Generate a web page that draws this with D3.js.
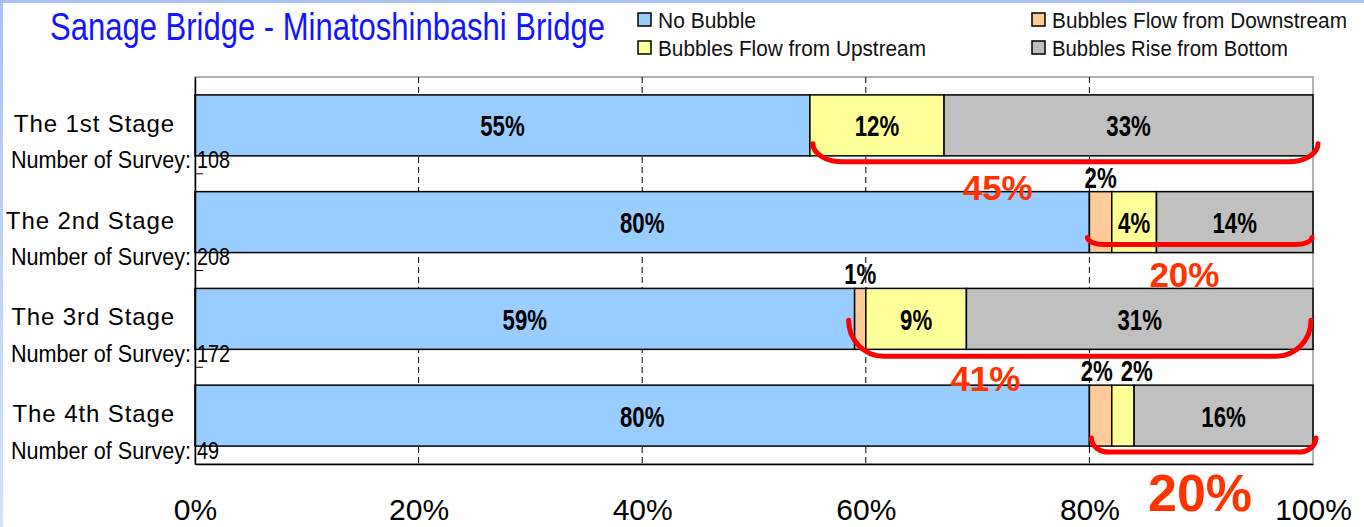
<!DOCTYPE html>
<html><head><meta charset="utf-8">
<script src="https://cdn.jsdelivr.net/npm/d3@7"></script>
<style>body{margin:0;background:#fff}svg{display:block}</style>
</head><body><svg id="c" width="1364" height="527"></svg>
<script>
// ---- data ----
const stages = ["The 1st Stage", "The 2nd Stage", "The 3rd Stage", "The 4th Stage"];
const surveyCounts = [108, 208, 172, 49];
const seriesNames = ["No Bubble", "Bubbles Flow from Downstream", "Bubbles Flow from Upstream", "Bubbles Rise from Bottom"];
const noBubble = [55, 80, 59, 80];
const flowDownstream = [0, 2, 1, 2];
const flowUpstream = [12, 4, 9, 2];
const riseBottom = [33, 14, 31, 16];
const xTickValues = [0, 20, 40, 60, 80, 100];
const xTickLabels = ["0%", "20%", "40%", "60%", "80%", "100%"];
const titleText = "Sanage Bridge - Minatoshinbashi Bridge";

// ---- layout / style (not data) ----
const colors = ["#99ccff", "#ffcc99", "#ffff99", "#c0c0c0"];
const SANS = "'Liberation Sans',Arial,sans-serif";
const bracketLayout = [
  {dx0: 3, dx1: 5, top: -12, bot: 6, rx: 30},
  {dx0: -2, dx1: -1, top: -15, bot: -8, rx: 17},
  {dx0: -6, dx1: -2, top: -29, bot: 7, rx: 35},
  {dx0: 2, dx1: 3, top: -8, bot: 6, rx: 17}
];
const annotLayout = [
  {xv: 71.8, dy: 44, size: 35},
  {xv: 88.5, dy: 34, size: 35},
  {xv: 70.7, dy: 42, size: 35},
  {xv: 89.9, dy: 65, size: 52}
];

function squeeze(sel, f) {
  sel.each(function () {
    const w = this.getComputedTextLength();
    d3.select(this).attr("textLength", w * f).attr("lengthAdjust", "spacingAndGlyphs");
  });
}
function fitWidth(sel, w) {
  sel.attr("textLength", w).attr("lengthAdjust", "spacingAndGlyphs");
}

const svg = d3.select("#c");

// frame
const defs = svg.append("defs");
const lg = defs.append("linearGradient").attr("id", "lb").attr("x1", 0).attr("y1", 0).attr("x2", 0).attr("y2", 1);
lg.append("stop").attr("offset", "0%").attr("stop-color", "#a9c1f2");
lg.append("stop").attr("offset", "100%").attr("stop-color", "#cfe6ff");
svg.append("rect").attr("x", 0).attr("y", 0).attr("width", 1364).attr("height", 3).attr("fill", "#a9c1f2");
svg.append("rect").attr("x", 0).attr("y", 0).attr("width", 3).attr("height", 527).attr("fill", "url(#lb)");

const x = d3.scaleLinear().domain([0, 100]).range([195, 1313]);
const y = d3.scaleBand().domain(stages).range([77, 464]).paddingInner(0.37).paddingOuter(0.185);

const rows = stages.map((s, i) => ({
  stage: s, n: surveyCounts[i],
  s0: noBubble[i], s1: flowDownstream[i], s2: flowUpstream[i], s3: riseBottom[i]
}));
const keys = ["s0", "s1", "s2", "s3"];
const stacked = d3.stack().keys(keys)(rows);

// plot frame
svg.append("rect").attr("x", 195).attr("y", 77).attr("width", 1313 - 195).attr("height", 464 - 77)
  .attr("fill", "#fff").attr("stroke", "#999").attr("stroke-width", 1.5);

// gridlines
svg.append("g").selectAll("line").data(xTickValues.filter(v => v > 0 && v < 100)).join("line")
  .attr("x1", d => x(d)).attr("x2", d => x(d)).attr("y1", 77).attr("y2", 464)
  .attr("stroke", "#000").attr("stroke-width", 1).attr("stroke-dasharray", "6,4");

// bars
svg.append("g").selectAll("g").data(stacked).join("g")
  .attr("fill", (d, i) => colors[i])
  .selectAll("rect").data(d => d).join("rect")
  .attr("x", d => x(d[0])).attr("width", d => x(d[1]) - x(d[0]))
  .attr("y", d => y(d.data.stage)).attr("height", y.bandwidth())
  .attr("stroke", "#000").attr("stroke-width", 1.5)
  .attr("display", d => d[1] - d[0] > 0 ? null : "none");

// axes
const yAxis = svg.append("g").attr("transform", "translate(195,0)")
  .call(d3.axisRight(y).tickSize(0).tickFormat(""));
yAxis.select(".domain").attr("stroke", "#000").attr("stroke-width", 1.5);
svg.append("g").selectAll("line").data(stages.slice(1)).join("line")
  .attr("x1", 195).attr("x2", 203)
  .attr("y1", d => y(d) - y.step() * y.paddingInner() / 2).attr("y2", d => y(d) - y.step() * y.paddingInner() / 2)
  .attr("stroke", "#000").attr("stroke-width", 1);

const xAxis = svg.append("g").attr("transform", "translate(0,464)")
  .call(d3.axisBottom(x).tickValues(xTickValues).tickSize(0).tickPadding(0).tickFormat((d, i) => xTickLabels[i]));
xAxis.select(".domain").attr("stroke", "#000").attr("stroke-width", 1.5);
xAxis.selectAll("text").attr("dy", null).attr("y", 56).attr("font-family", SANS).attr("font-size", 30).attr("fill", "#000");

// value labels
const lbl = svg.append("g").attr("font-family", SANS).attr("font-weight", "bold").attr("font-size", 30).attr("text-anchor", "middle").attr("fill", "#000");
stacked.forEach((layer) => {
  layer.forEach((d) => {
    const v = d[1] - d[0];
    if (v < 4) return;
    const cx = x((d[0] + d[1]) / 2);
    lbl.append("text").attr("x", cx).attr("y", y(d.data.stage) + y.bandwidth() / 2 + 11).text(v + "%");
  });
});
rows.forEach((r, i) => {
  const small = [];
  stacked.forEach(layer => {
    const d = layer[i]; const v = d[1] - d[0];
    if (v > 0 && v < 4) small.push({v, cx: x((d[0] + d[1]) / 2)});
  });
  if (small.length > 1) {
    const m = d3.mean(small, s => s.cx) + 5;
    small.forEach((s, j) => { s.cx = m + (j - (small.length - 1) / 2) * 40; });
  }
  small.forEach(s => {
    lbl.append("text").attr("x", s.cx).attr("y", y(r.stage) - 4).text(s.v + "%");
  });
});
squeeze(lbl.selectAll("text"), 0.74);

// category labels
const cat = svg.append("g");
rows.forEach(r => {
  const c = y(r.stage) + y.bandwidth() / 2;
  cat.append("text").attr("x", 175).attr("y", c + 6.5).attr("text-anchor", "end")
    .attr("font-family", SANS).attr("font-size", 24).attr("letter-spacing", 0.9).attr("fill", "#000").text(r.stage);
  fitWidth(cat.append("text").attr("x", 191).attr("y", c + 43).attr("text-anchor", "end")
    .attr("font-family", SANS).attr("font-size", 23).attr("fill", "#000").text("Number of Survey:"), 180);
  squeeze(cat.append("text").attr("x", 197).attr("y", c + 43)
    .attr("font-family", SANS).attr("font-size", 23).attr("fill", "#000").text(r.n), 0.86);
});

// brackets and totals
rows.forEach((r, i) => {
  const b = bracketLayout[i];
  const bottom = y(r.stage) + y.bandwidth();
  const xL = x(r.s0) + b.dx0, xR = x(100) + b.dx1;
  const yT = bottom + b.top, yB = bottom + b.bot;
  const ry = yB - yT;
  const p = `M${xL},${yT} A${b.rx},${ry} 0 0 0 ${xL + b.rx},${yB} L${xR - b.rx},${yB} A${b.rx},${ry} 0 0 0 ${xR},${yT}`;
  svg.append("path").attr("d", p).attr("fill", "none").attr("stroke", "#ff0000").attr("stroke-width", 5).attr("stroke-linecap", "round");
  const a = annotLayout[i];
  svg.append("text").attr("x", x(a.xv)).attr("y", bottom + a.dy).attr("text-anchor", "middle")
    .attr("font-family", SANS).attr("font-weight", "bold").attr("font-size", a.size).attr("fill", "#ff3300")
    .text((r.s1 + r.s2 + r.s3) + "%");
});

// title
fitWidth(svg.append("text").attr("x", 50).attr("y", 40).attr("font-family", SANS).attr("font-size", 38)
  .attr("fill", "#1414ff").text(titleText), 555);

// legend
const legPos = [[638, 13], [1032, 13], [638, 41], [1032, 41]];
const legW = [100, 297, 270, 238];
const leg = svg.append("g");
seriesNames.forEach((n, i) => {
  const [lx, ly] = legPos[i];
  leg.append("rect").attr("x", lx).attr("y", ly).attr("width", 13).attr("height", 13)
    .attr("fill", colors[i]).attr("stroke", "#000").attr("stroke-width", 1.5);
  fitWidth(leg.append("text").attr("x", lx + 20).attr("y", ly + 15).attr("font-family", SANS).attr("font-size", 22)
    .attr("fill", "#111").text(n), legW[i] - 2);
});
</script></body></html>
